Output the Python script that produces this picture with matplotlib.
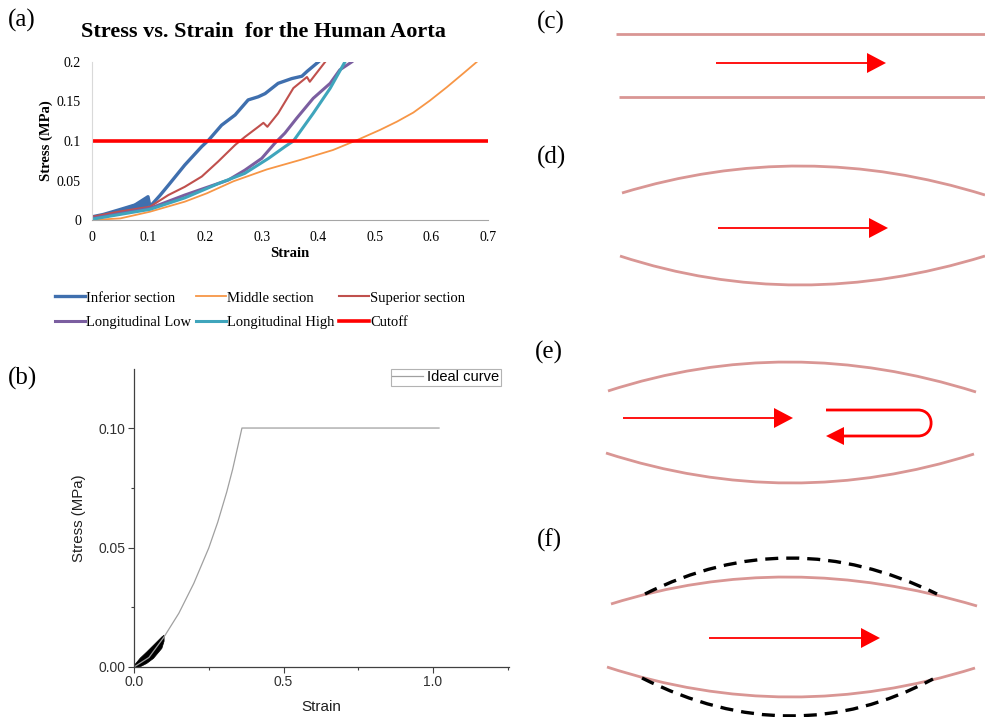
import numpy as np
import matplotlib
matplotlib.use('Agg')
import matplotlib.pyplot as plt
from matplotlib.path import Path
from matplotlib.patches import PathPatch, Polygon

# ---- panel (a): stress vs strain, human aorta ----
inf_x = [0, 0.02, 0.047, 0.076, 0.099, 0.1025, 0.12, 0.135, 0.164, 0.194, 0.206, 0.229,
         0.253, 0.276, 0.294, 0.306, 0.329, 0.353, 0.371, 0.38, 0.40]
inf_y = [0.004, 0.007, 0.0127, 0.019, 0.0295, 0.017, 0.031, 0.044, 0.0696, 0.093, 0.101, 0.12,
         0.133, 0.152, 0.156, 0.16, 0.173, 0.179, 0.182, 0.188, 0.2]
inf_band_x = [0.03, 0.05, 0.07, 0.09, 0.099]
inf_band_lo = [0.008, 0.010, 0.012, 0.014, 0.015]
inf_band_hi = [0.010, 0.015, 0.020, 0.026, 0.031]

mid_x = [0, 0.05, 0.1025, 0.164, 0.203, 0.25, 0.309, 0.368, 0.426, 0.468, 0.509, 0.539,
         0.568, 0.597, 0.627, 0.657, 0.68]
mid_y = [0, 0.002, 0.0105, 0.0232, 0.0338, 0.049, 0.064, 0.076, 0.0886, 0.101, 0.114, 0.1245,
         0.136, 0.151, 0.168, 0.186, 0.2]

sup_x = [0, 0.047, 0.1025, 0.135, 0.164, 0.194, 0.223, 0.253, 0.27, 0.294, 0.303, 0.31,
         0.329, 0.356, 0.38, 0.385, 0.412]
sup_y = [0.004, 0.0105, 0.0168, 0.0316, 0.042, 0.055, 0.074, 0.095, 0.105, 0.118, 0.123, 0.118,
         0.135, 0.167, 0.181, 0.175, 0.2]

low_x = [0, 0.1025, 0.164, 0.206, 0.241, 0.27, 0.30, 0.323, 0.341, 0.362, 0.391, 0.421, 0.438, 0.459]
low_y = [0.002, 0.0148, 0.0316, 0.042, 0.0506, 0.063, 0.078, 0.097, 0.110, 0.129, 0.154, 0.173, 0.19, 0.2]

high_x = [0, 0.1025, 0.164, 0.223, 0.27, 0.312, 0.341, 0.356, 0.391, 0.421, 0.447]
high_y = [0.001, 0.0135, 0.028, 0.046, 0.059, 0.078, 0.0928, 0.1, 0.135, 0.1667, 0.2]

cutoff_x = [0, 0.7]
cutoff_y = [0.1, 0.1]

# ---- panel (b): ideal curve + measured data ----
ideal_x = [0, 0.05, 0.1, 0.15, 0.2, 0.25, 0.28, 0.31, 0.33, 0.345, 0.361, 1.02]
ideal_y = [0, 0.004, 0.0125, 0.0225, 0.035, 0.0498, 0.0606, 0.0732, 0.0828, 0.0911, 0.1, 0.1]
meas_x = [0, 0.019, 0.041, 0.0635, 0.0915, 0.099]
meas_lo = [0, 0.0003, 0.0017, 0.0038, 0.008, 0.011]
meas_hi = [0.001, 0.0039, 0.0065, 0.0093, 0.0128, 0.0135]

# ---- schematics (c)-(f), pixel coordinates of the figure ----
# arcs: (x0, y0, x_apex, y_apex, x1, y1)
pink_arcs = [(622, 193, 803, 166, 985, 195), (620, 256, 800, 285, 985, 256),
             (608, 391, 790, 362, 976, 392), (606, 453, 790, 483, 974, 454),
             (611, 604, 790, 577, 977, 606), (607, 667, 790, 697, 975, 668)]
dash_arcs = [(645, 594, 790, 558, 937, 594), (642, 678, 790, 716, 933, 679)]
straight_walls = [(616, 34, 985, 34), (619, 97, 985, 97)]
arrows = [(716, 63, 886, 63), (718, 228, 888, 228), (623, 418, 793, 418), (709, 638, 880, 638)]

W, H = 985, 717
fig = plt.figure(figsize=(W / 100, H / 100), dpi=100)

serif = 'Liberation Serif'
sans = 'Liberation Sans'

# panel (a)
axa = fig.add_axes([92 / W, 1 - 220 / H, 396 / W, 158 / H])
c_inf, c_mid, c_sup, c_low, c_high = '#3F6FAE', '#F79646', '#C0504D', '#7B5EA0', '#3FA5BC'
axa.fill_between(inf_band_x, inf_band_lo, inf_band_hi, color=c_inf, lw=0)
h1, = axa.plot(inf_x, inf_y, color=c_inf, lw=2.4, label='Inferior section')
h2, = axa.plot(mid_x, mid_y, color=c_mid, lw=1.3, label='Middle section')
h3, = axa.plot(sup_x, sup_y, color=c_sup, lw=1.5, label='Superior section')
h4, = axa.plot(low_x, low_y, color=c_low, lw=2.2, label='Longitudinal Low')
h5, = axa.plot(high_x, high_y, color=c_high, lw=2.2, label='Longitudinal High')
h6, = axa.plot(cutoff_x, cutoff_y, color='#FF0000', lw=2.6, label='Cutoff')
axa.set_xlim(0, 0.7)
axa.set_ylim(0, 0.2)
axa.set_xticks([0, 0.1, 0.2, 0.3, 0.4, 0.5, 0.6, 0.7])
axa.set_xticklabels(['0', '0.1', '0.2', '0.3', '0.4', '0.5', '0.6', '0.7'])
axa.set_yticks([0, 0.05, 0.1, 0.15, 0.2])
axa.set_yticklabels(['0', '0.05', '0.1', '0.15', '0.2'])
for s in ['top', 'right']:
    axa.spines[s].set_visible(False)
axa.spines['left'].set_color('#D9D9D9')
axa.spines['bottom'].set_color('#A6A6A6')
axa.tick_params(length=0, labelsize=10, pad=8)
for t in axa.get_xticklabels() + axa.get_yticklabels():
    t.set_fontfamily(serif)
axa.set_xlabel('Strain', fontfamily=serif, fontweight='bold', fontsize=10.5, labelpad=2)
axa.set_ylabel('Stress (MPa)', fontfamily=serif, fontweight='bold', fontsize=10.5, labelpad=3)
fig.text(263 / W, 1 - 32 / H, 'Stress vs. Strain  for the Human Aorta', ha='center', va='center',
         fontfamily=serif, fontweight='bold', fontsize=16)
fig.legend([h1, h4, h2, h5, h3, h6],
           [h.get_label() for h in [h1, h4, h2, h5, h3, h6]],
           ncol=3, loc='center', bbox_to_anchor=(260 / W, 1 - 310 / H), frameon=False,
           prop={'family': serif, 'size': 10.5}, handlelength=2.1, handletextpad=0.05,
           columnspacing=0.3, labelspacing=0.75)

# panel (b)
axb = fig.add_axes([134 / W, 1 - 667 / H, 375 / W, 298 / H])
axb.fill_between(meas_x, meas_lo, meas_hi, color='black', lw=0.5)
axb.plot(ideal_x, ideal_y, color='#A0A0A0', lw=0.9, label='Ideal curve')
axb.set_xlim(0, 1.254)
axb.set_ylim(0, 0.1247)
axb.set_xticks([0, 0.5, 1.0])
axb.set_xticklabels(['0.0', '0.5', '1.0'])
axb.set_xticks([0.25, 0.75, 1.25], minor=True)
axb.set_yticks([0, 0.05, 0.10])
axb.set_yticklabels(['0.00', '0.05', '0.10'])
axb.set_yticks([0.025, 0.075], minor=True)
for s in ['top', 'right']:
    axb.spines[s].set_visible(False)
for s in ['left', 'bottom']:
    axb.spines[s].set_color('#404040')
    axb.spines[s].set_linewidth(0.9)
axb.tick_params(which='major', length=4, width=0.8, color='#404040', labelsize=10,
                labelcolor='#303030', pad=2)
axb.tick_params(which='minor', length=2.5, width=0.8, color='#404040')
for t in axb.get_xticklabels() + axb.get_yticklabels():
    t.set_fontfamily(sans)
axb.set_xlabel('Strain', fontfamily=sans, fontsize=11, color='#202020', labelpad=8)
axb.set_ylabel('Stress (MPa)', fontfamily=sans, fontsize=10.8, color='#202020', labelpad=9)
leg = axb.legend(loc='upper right', bbox_to_anchor=(501 / W, 1 - 369 / H),
                 bbox_transform=fig.transFigure, borderaxespad=0, fancybox=False,
                 prop={'family': sans, 'size': 10.5}, handlelength=2.1, handletextpad=0.3,
                 borderpad=0.1)
leg.get_frame().set_edgecolor('#A0A0A0')
leg.get_frame().set_linewidth(0.8)

# panels (c)-(f): drawn in pixel space
axs = fig.add_axes([0, 0, 1, 1])
axs.set_xlim(0, W)
axs.set_ylim(H, 0)
axs.axis('off')
pink = '#D99694'


def arc(a, **kw):
    x0, y0, xa, ya, x1, y1 = a
    cx = 2 * xa - (x0 + x1) / 2
    cy = 2 * ya - (y0 + y1) / 2
    p = Path([(x0, y0), (cx, cy), (x1, y1)], [Path.MOVETO, Path.CURVE3, Path.CURVE3])
    axs.add_patch(PathPatch(p, fill=False, **kw))


def head(xt, yt, dx, dy, length=19, half=10):
    n = np.hypot(dx, dy)
    ux, uy = dx / n, dy / n
    bx, by = xt - ux * length, yt - uy * length
    axs.add_patch(Polygon([(xt, yt), (bx - uy * half, by + ux * half), (bx + uy * half, by - ux * half)],
                          closed=True, color='#FF0000', lw=0))


for x0, y0, x1, y1 in straight_walls:
    axs.plot([x0, x1], [y0, y1], color=pink, lw=2.0, solid_capstyle='butt')
for a in pink_arcs:
    arc(a, edgecolor=pink, lw=2.0)
for a in dash_arcs:
    arc(a, edgecolor='black', lw=2.4, linestyle=(0, (3.9, 2.4)))
for x0, y0, x1, y1 in arrows:
    axs.plot([x0, x1 - 15], [y0, y1], color='#FF0000', lw=1.3, solid_capstyle='butt')
    head(x1, y1, x1 - x0, y1 - y0)

# U-turn arrow in (e)
u = Path([(826, 410), (918, 410), (935.5, 410), (935.5, 436), (918, 436), (842, 436)],
         [Path.MOVETO, Path.LINETO, Path.CURVE4, Path.CURVE4, Path.CURVE4, Path.LINETO])
axs.add_patch(PathPatch(u, fill=False, edgecolor='#FF0000', lw=2.0))
head(826, 436, -1, 0, length=18, half=9)

# panel letters
for lab, x, y in [('(a)', 8, 20), ('(b)', 8, 378), ('(c)', 537, 22), ('(d)', 537, 157),
                  ('(e)', 535, 352), ('(f)', 537, 540)]:
    axs.text(x, y, lab, ha='left', va='center', fontfamily=serif, fontsize=18)

fig.savefig('out.png', dpi=100)
